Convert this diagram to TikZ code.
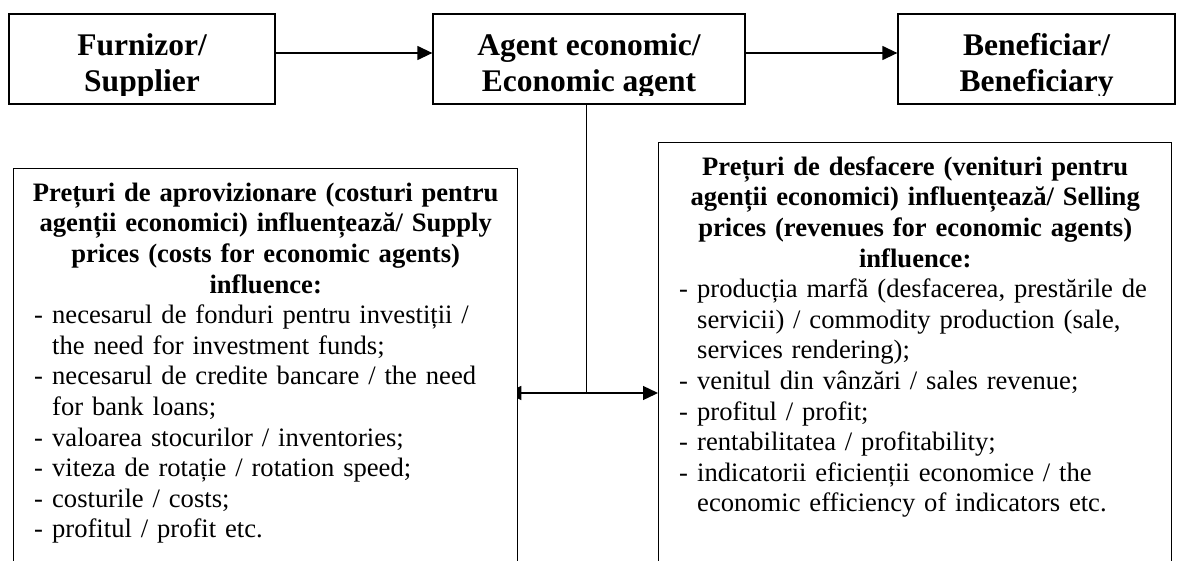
\documentclass[tikz,border=0pt]{standalone}
\usepackage{fontspec}
\setmainfont{Liberation Serif}
\usetikzlibrary{arrows.meta,backgrounds}
\newlength\blockw
\newcommand\myc[1]{\makebox[\blockw][c]{\bfseries #1}}
\newcommand\myj[1]{\makebox[18pt][l]{-}\makebox[\dimexpr\blockw-18pt\relax][s]{#1}}
\newcommand\myi[1]{\makebox[18pt][l]{-}#1}
\newcommand\myk[1]{\hspace*{18pt}#1}
\tikzset{
  frame/.style={draw, line width=1.3pt, fill=white, inner sep=0pt, rectangle},
  ttl/.style={font=\fontsize{31.5}{36.7}\selectfont\bfseries, inner sep=0pt, anchor=base},
  body/.style={font=\fontsize{26.6}{30.6}\selectfont, inner sep=0pt, anchor=north west, text width=#1, align=left},
  conn/.style={line width=1.3pt},
  arr/.style={conn, -{Triangle[length=15pt,width=14pt]}},
}
\begin{document}
\begin{tikzpicture}[x=1pt,y=-1pt]
\useasboundingbox (0,0) rectangle (1177,560);
% top boxes
\node[frame, minimum width=266pt, minimum height=90pt] (sup) at (142,59) {};
\node[frame, minimum width=312pt, minimum height=90pt] (agent) at (589,59) {};
\node[frame, minimum width=277pt, minimum height=90pt] (ben) at (1036.5,59) {};
% lower boxes
\node[frame, minimum width=504pt, minimum height=420pt, anchor=north west] (lbox) at (13,168) {};
\node[frame, minimum width=513pt, minimum height=440pt, anchor=north west] (rbox) at (658,142) {};
% titles (clipped like the original text boxes)
\begin{scope}
\clip (sup.north west) rectangle ([yshift=9pt]sup.south east);
\node[ttl] (supA) at (sup.center |- 0,55) {Furnizor/};
\node[ttl] (supB) at (sup.center |- 0,91.7) {Supplier};
\end{scope}
\begin{scope}
\clip (agent.north west) rectangle ([yshift=9pt]agent.south east);
\node[ttl] (agA) at (agent.center |- 0,55) {Agent economic/};
\node[ttl] (agB) at (agent.center |- 0,91.7) {Economic agent};
\end{scope}
\begin{scope}
\clip (ben.north west) rectangle ([yshift=9pt]ben.south east);
\node[ttl] (benA) at (ben.center |- 0,55) {Beneficiar/};
\node[ttl] (benB) at (ben.center |- 0,91.7) {Beneficiary};
\end{scope}
% left text
\node[body=463pt] (ltxt) at (34,179.6) {\setlength\blockw{463pt}%
\strut\myc{Prețuri de aprovizionare (costuri pentru}\\
\myc{agenții economici) influențează/ Supply}\\
\myc{prices (costs for economic agents)}\\
\myc{influence:}\\
\myj{necesarul de fonduri pentru investiții /}\\
\myk{the need for investment funds;}\\
\myj{necesarul de credite bancare / the need}\\
\myk{for bank loans;}\\
\myi{valoarea stocurilor / inventories;}\\
\myi{viteza de rotație / rotation speed;}\\
\myi{costurile / costs;}\\
\myi{profitul / profit etc.}};
% right text
\node[body=472pt] (rtxt) at (679,153.6) {\setlength\blockw{472pt}%
\strut\myc{Prețuri de desfacere (venituri pentru}\\
\myc{agenții economici) influențează/ Selling}\\
\myc{prices (revenues for economic agents)}\\
\myc{influence:}\\
\myi{producția marfă (desfacerea, prestările de}\\
\myk{servicii) / commodity production (sale,}\\
\myk{services rendering);}\\
\myi{venitul din vânzări / sales revenue;}\\
\myi{profitul / profit;}\\
\myi{rentabilitatea / profitability;}\\
\myi{indicatorii eficienții economice / the}\\
\myk{economic efficiency of indicators etc.}};
% connectors
\begin{scope}[on background layer]
\coordinate (jn) at (586.5,393);
\draw[arr] ([yshift=6pt]sup.east) -- ([yshift=6pt]agent.west);
\draw[arr] ([yshift=6pt]agent.east) -- ([yshift=6pt]ben.west);
\draw[conn] ([xshift=-2.5pt]agent.south) -- (jn);
\draw[arr] (jn) -- (jn -| rbox.west);
\draw[arr, shorten >=-12pt] (jn) -- (jn -| lbox.east);
\end{scope}
\end{tikzpicture}
\end{document}
